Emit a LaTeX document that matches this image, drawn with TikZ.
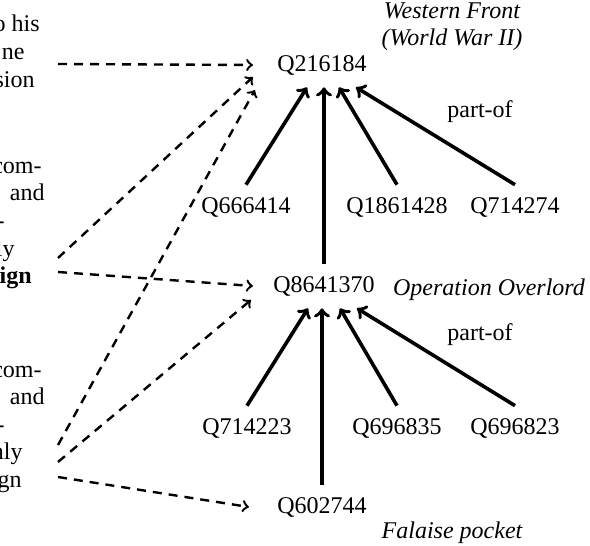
\documentclass[tikz,border=0pt]{standalone}
\usepackage{fontspec}
\setmainfont{Liberation Serif}

\begin{document}
\begin{tikzpicture}[x=0.5pt, y=-0.5pt, font=\fontsize{12}{13.75}\selectfont,
    qid/.style={inner sep=6pt},
    part/.style={->, line width=1.8pt},
    link/.style={->, line width=1.2pt, dash pattern=on 4.5pt off 3.5pt},
    frag/.style={anchor=base east, inner sep=0pt},
    label/.style={font=\fontsize{12}{13.5}\selectfont\itshape, align=center}]
  \useasboundingbox (0,0) rectangle (590,546);

  % text of the paragraph (cut at the left edge)
  \node[frag] (t1)  at (40,32)  {o his};
  \node[frag] (t2)  at (25,60)  {ne};
  \node[frag] (t3)  at (35,87)  {sion};
  \node[frag] (t4)  at (42,173) {com-};
  \node[frag] (t5)  at (45,200) {and};
  \node[frag] (t6)  at (5,228)  {-};
  \node[frag] (t7)  at (15,256) {ly};
  \node[frag] (t8)  at (32,283) {\textbf{ign}};
  \node[frag] (t9)  at (42,377) {com-};
  \node[frag] (t10) at (45,404) {and};
  \node[frag] (t11) at (5,432)  {-};
  \node[frag] (t12) at (23,459) {nly};
  \node[frag] (t13) at (22,487) {gn};

  % wikidata items
  \node[qid] (wf) at (322,65)  {Q216184};
  \node[qid] (oo) at (324,286) {Q8641370};
  \node[qid] (fp) at (322,507) {Q602744};
  \node[qid] (a1) at (246,207) {Q666414};
  \node[qid] (a2) at (397,207) {Q1861428};
  \node[qid] (a3) at (515,207) {Q714274};
  \node[qid] (b1) at (247,428) {Q714223};
  \node[qid] (b2) at (397,428) {Q696835};
  \node[qid] (b3) at (515,428) {Q696823};

  \node[label] (wfname) at (452,27)  {Western Front\\(World War II)};
  \node[label] (ooname) at (489,290) {Operation Overlord};
  \node[label] (fpname) at (452,533) {Falaise pocket};
  \node (po1) at (480,112) {part-of};
  \node (po2) at (480,335) {part-of};

  % part-of edges
  \path (a1.north) edge[part] ([xshift=-7.5pt]wf.south)
        (oo.north) edge[part] (oo.north |- wf.south)
        (a2.north) edge[part] ([xshift=8.5pt]wf.south)
        (a3.north) edge[part] ([xshift=17pt]wf.south);
  \path (b1.north) edge[part] ([xshift=-8pt]oo.south)
        (fp.north) edge[part] (fp.north |- oo.south)
        (b2.north) edge[part] ([xshift=8pt]oo.south)
        (b3.north) edge[part] ([xshift=16.5pt]oo.south);

  % links from the text
  \coordinate (s1) at (58,64);
  \coordinate (s2) at (58,258);
  \coordinate (s3) at (58,272);
  \coordinate (s4) at (58,445);
  \coordinate (s5) at (58,462);
  \coordinate (s6) at (58,477);
  \draw[link] (s1) -- ([xshift=-6pt]wf.west);
  \draw[link] (s2) -- ([xshift=-6pt,yshift=-6pt]wf.west);
  \draw[link] (s4) -- ([xshift=-5pt,yshift=-12.5pt]wf.west);
  \draw[link] (s3) -- ([xshift=-4pt]oo.west);
  \draw[link] (s5) -- ([xshift=-5pt,yshift=-7pt]oo.west);
  \draw[link] (s6) -- ([xshift=-8pt]fp.west);
\end{tikzpicture}
\end{document}
